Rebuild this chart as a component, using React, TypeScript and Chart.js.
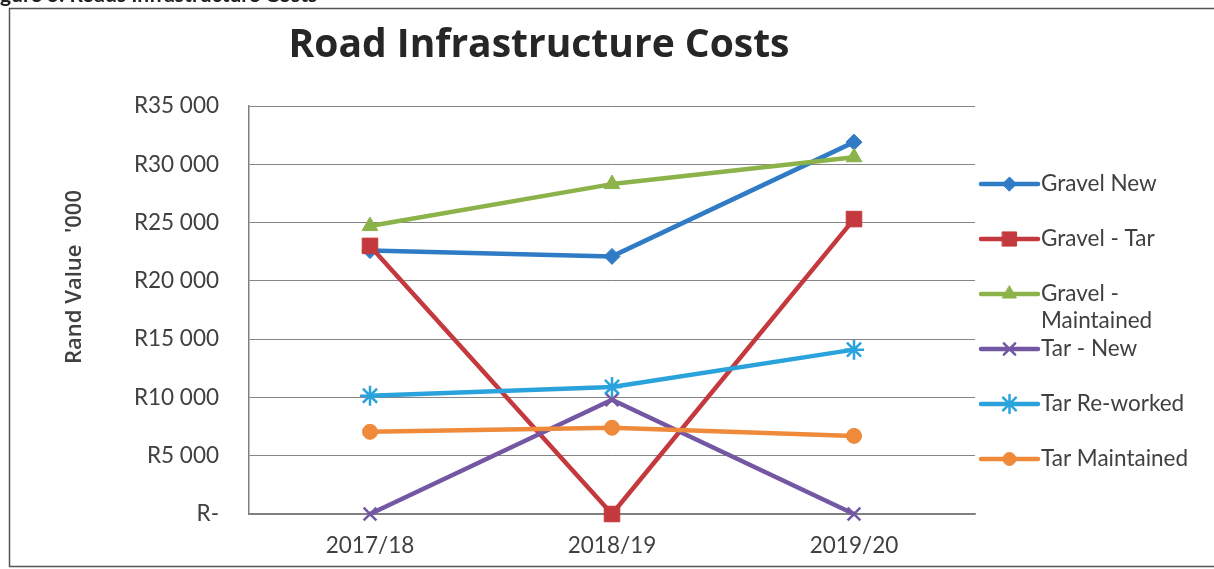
import React, { useEffect, useRef } from "react";
import { Chart, registerables } from "chart.js";
import { drawPoint } from "chart.js/helpers";

Chart.register(...registerables);

const categories = ["2017/18", "2018/19", "2019/20"];
const seriesNames = [
  "Gravel New",
  "Gravel - Tar",
  "Gravel - Maintained",
  "Tar - New",
  "Tar Re-worked",
  "Tar Maintained",
];
const gravelNew = [22600, 22100, 31900];
const gravelTar = [23000, 0, 25300];
const gravelMaintained = [24700, 28300, 30600];
const tarNew = [0, 9800, 0];
const tarReworked = [10150, 10900, 14100];
const tarMaintained = [7050, 7400, 6700];
const seriesValues = [gravelNew, gravelTar, gravelMaintained, tarNew, tarReworked, tarMaintained];

const yMin = 0;
const yMax = 35000;
const yStep = 5000;

const chartTitle = "Road Infrastructure Costs";
const yAxisTitle = "Rand Value  '000";
const caption = "Figure 3: Roads Infrastructure Costs";

const colors = ["#2f7bc5", "#c4393d", "#8cb24a", "#7457a3", "#2aa3dc", "#ef8a3b"];
const pointStyles = ["rectRot", "rect", "triangle", "crossRot", "star", "circle"];
const pointRadii = [8, 11, 9, 9, 10, 7.5];
const pointBorders = [1, 1, 1, 2.5, 2.5, 1];

const FONT = "Lato, 'Open Sans', sans-serif";
const TITLE_FONT = "'Open Sans', Lato, sans-serif";
const TEXT_SIZE = 22.5;

function formatRand(v: number): string {
  if (v === 0) return "R-";
  const s = Math.round(v).toString();
  return "R" + s.replace(/\B(?=(\d{3})+(?!\d))/g, " ");
}

function wrapText(ctx: CanvasRenderingContext2D, text: string, maxW: number): string[] {
  const words = text.split(" ");
  const lines: string[] = [];
  let cur = "";
  for (const w of words) {
    const test = cur ? cur + " " + w : w;
    if (ctx.measureText(test).width > maxW && cur) {
      lines.push(cur);
      cur = w;
    } else {
      cur = test;
    }
  }
  if (cur) lines.push(cur);
  return lines;
}

const decorPlugin = {
  id: "decor",
  beforeDraw(chart: any) {
    const ctx = chart.ctx as CanvasRenderingContext2D;
    ctx.save();
    ctx.fillStyle = "#ffffff";
    ctx.fillRect(0, 0, chart.width, chart.height);
    ctx.restore();
  },
  afterDraw(chart: any) {
    const ctx = chart.ctx as CanvasRenderingContext2D;
    ctx.save();
    // outer frame
    ctx.strokeStyle = "#555555";
    ctx.lineWidth = 1.5;
    ctx.beginPath();
    ctx.moveTo(chart.width + 5, 8.5);
    ctx.lineTo(9.5, 8.5);
    ctx.lineTo(9.5, 566.5);
    ctx.lineTo(chart.width + 5, 566.5);
    ctx.stroke();

    // cropped caption above the frame
    ctx.font = `bold 21px ${FONT}`;
    ctx.fillStyle = "#222222";
    ctx.textBaseline = "alphabetic";
    ctx.textAlign = "left";
    const fiW = ctx.measureText("Fi").width;
    ctx.fillText(caption, -fiW, 2);

    // chart title
    ctx.font = `bold 39px ${TITLE_FONT}`;
    ctx.fillStyle = "#262626";
    ctx.textAlign = "center";
    ctx.textBaseline = "alphabetic";
    ctx.fillText(chartTitle, 539, 57);

    // y axis title (rotated), sitting a little above the plot centre as in the source
    ctx.save();
    ctx.translate(75, 277);
    ctx.rotate(-Math.PI / 2);
    ctx.font = `600 22px ${TITLE_FONT}`;
    ctx.fillStyle = "#404040";
    ctx.textAlign = "center";
    ctx.textBaseline = "middle";
    ctx.fillText(yAxisTitle, 0, 0);
    ctx.restore();

    // legend
    const lx0 = 981;
    const lx1 = 1038;
    const tx = 1041;
    const y0 = 184;
    const dy = 55;
    chart.data.datasets.forEach((ds: any, i: number) => {
      const y = y0 + i * dy;
      ctx.strokeStyle = ds.borderColor;
      ctx.lineWidth = 4.5;
      ctx.lineCap = "round";
      ctx.beginPath();
      ctx.moveTo(lx0, y);
      ctx.lineTo(lx1, y);
      ctx.stroke();
      ctx.fillStyle = ds.pointBackgroundColor;
      ctx.strokeStyle = ds.pointBorderColor;
      ctx.lineWidth = ds.pointBorderWidth;
      drawPoint(
        ctx,
        { pointStyle: ds.pointStyle, radius: ds.pointRadius - 1, borderWidth: ds.pointBorderWidth, rotation: 0 } as any,
        (lx0 + lx1) / 2,
        y
      );
      ctx.font = `${TEXT_SIZE}px ${FONT}`;
      ctx.fillStyle = "#404040";
      ctx.textAlign = "left";
      ctx.textBaseline = "middle";
      const lines = wrapText(ctx, ds.label, 165);
      lines.forEach((ln, k) => ctx.fillText(ln, tx, y + k * 27));
    });
    ctx.restore();
  },
};

export default function App() {
  const ref = useRef<HTMLCanvasElement | null>(null);

  useEffect(() => {
    if (!ref.current) return;
    const n = seriesNames.length;
    const chart = new Chart(ref.current, {
      type: "line",
      data: {
        labels: categories,
        datasets: seriesNames.map((name, i) => ({
          label: name,
          data: seriesValues[i],
          borderColor: colors[i],
          backgroundColor: colors[i],
          pointBackgroundColor: colors[i],
          pointBorderColor: colors[i],
          pointStyle: pointStyles[i] as any,
          pointRadius: pointRadii[i],
          pointBorderWidth: pointBorders[i],
          borderWidth: 4.5,
          borderCapStyle: "round",
          borderJoinStyle: "round",
          tension: 0,
          fill: false,
          clip: false,
          order: n - i,
        })),
      },
      options: {
        animation: false,
        responsive: false,
        devicePixelRatio: 1,
        layout: { padding: { left: 0, top: 106, right: 239, bottom: 0 } },
        plugins: {
          legend: { display: false },
          title: { display: false },
          tooltip: { enabled: false },
        },
        scales: {
          x: {
            type: "category",
            offset: true,
            grid: { display: false, drawTicks: false },
            border: { display: true, color: "#7f7f7f", width: 1.5 },
            ticks: { font: { family: FONT, size: TEXT_SIZE }, color: "#404040", padding: 18, maxRotation: 0 },
            afterFit: (s: any) => {
              s.height = 55;
            },
          },
          y: {
            min: yMin,
            max: yMax,
            ticks: {
              stepSize: yStep,
              callback: (v: any) => formatRand(Number(v)),
              font: { family: FONT, size: TEXT_SIZE },
              color: "#404040",
              padding: 30,
            },
            grid: { color: "#858585", lineWidth: 1, drawTicks: false },
            border: { display: true, color: "#7f7f7f", width: 1.5 },
            title: { display: false },
            afterFit: (s: any) => {
              s.width = 249;
            },
          },
        },
      } as any,
      plugins: [decorPlugin],
    });
    return () => chart.destroy();
  }, []);

  return (
    <div style={{ position: "fixed", left: 0, top: 0, width: 1214, height: 569, background: "#fff" }}>
      <canvas ref={ref} width={1214} height={569} style={{ display: "block", width: 1214, height: 569 }} />
    </div>
  );
}
